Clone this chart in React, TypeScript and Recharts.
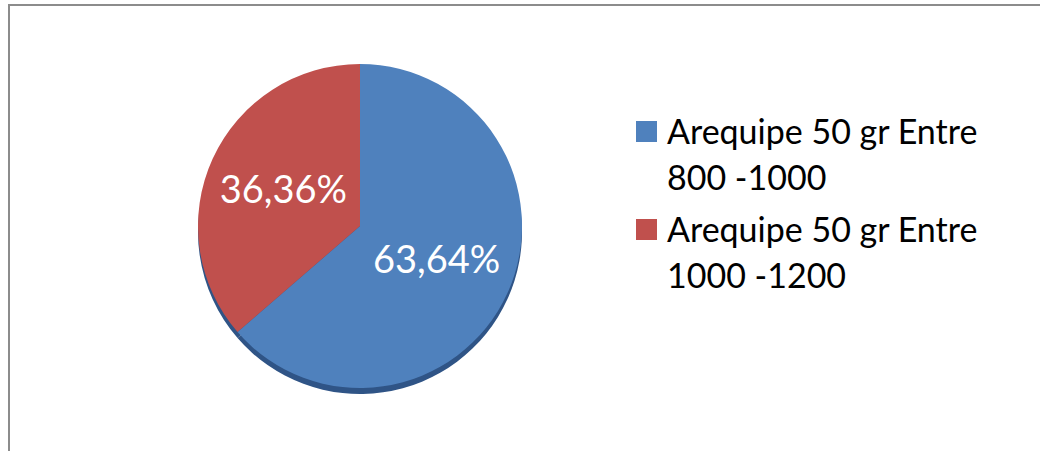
import { PieChart, Pie, Cell, Legend } from "recharts";

const categories = ["Arequipe 50 gr Entre 800 -1000", "Arequipe 50 gr Entre 1000 -1200"];
const legendLines = [
  ["Arequipe 50 gr Entre", "800 -1000"],
  ["Arequipe 50 gr Entre", "1000 -1200"],
];
const shares = [63.64, 36.36];
const colors = ["#4f81bd", "#c0504d"];

const data = categories.map((name, i) => ({ name, value: shares[i] }));

const RAD = Math.PI / 180;

function renderLabel(props: any) {
  const { cx, cy, midAngle, outerRadius, value } = props;
  const r = outerRadius * 0.52;
  const x = cx + r * Math.cos(-midAngle * RAD);
  const y = cy + r * Math.sin(-midAngle * RAD);
  return (
    <text
      x={x}
      y={y - 3}
      fill="#ffffff"
      textAnchor="middle"
      dominantBaseline="central"
      fontFamily="Lato, 'Open Sans', sans-serif"
      fontSize={38}
    >
      {value.toFixed(2).replace(".", ",")}%
    </text>
  );
}

function renderLegend() {
  return (
    <div style={{ fontFamily: "Lato, 'Open Sans', sans-serif", fontSize: 34, color: "#000" }}>
      {legendLines.map((lines, i) => (
        <div key={i} style={{ display: "flex", alignItems: "flex-start", marginBottom: 6 }}>
          <div
            style={{
              width: 21,
              height: 21,
              background: colors[i],
              marginTop: 13,
              marginRight: 10,
              flexShrink: 0,
            }}
          />
          <div style={{ lineHeight: "46px" }}>
            {lines.map((l, j) => (
              <div key={j}>{l}</div>
            ))}
          </div>
        </div>
      ))}
    </div>
  );
}

export default function App() {
  return (
    <div
      style={{
        position: "fixed",
        left: 0,
        top: 0,
        width: 1040,
        height: 451,
        background: "#ffffff",
        overflow: "hidden",
      }}
    >
      <PieChart width={1040} height={451} margin={{ top: 0, right: 0, bottom: 0, left: 0 }}>
        <Pie
          data={data}
          dataKey="value"
          cx={360}
          cy={232}
          outerRadius={162}
          startAngle={90}
          endAngle={-270}
          stroke="none"
          isAnimationActive={false}
          legendType="none"
        >
          {data.map((d) => (
            <Cell key={d.name} fill="#2f5486" />
          ))}
        </Pie>
        <Pie
          data={data}
          dataKey="value"
          cx={360}
          cy={226}
          outerRadius={162}
          startAngle={90}
          endAngle={-270}
          stroke="none"
          label={renderLabel}
          labelLine={false}
          isAnimationActive={false}
        >
          {data.map((d, i) => (
            <Cell key={d.name} fill={colors[i]} />
          ))}
        </Pie>
        <Legend
          content={renderLegend}
          wrapperStyle={{ position: "absolute", left: 636, top: 108, width: 400 }}
        />
      </PieChart>
      <div
        style={{
          position: "absolute",
          left: 8,
          top: 4,
          width: 1040,
          height: 460,
          borderLeft: "2px solid #8c8c8c",
          borderTop: "2px solid #8c8c8c",
          pointerEvents: "none",
        }}
      />
    </div>
  );
}
